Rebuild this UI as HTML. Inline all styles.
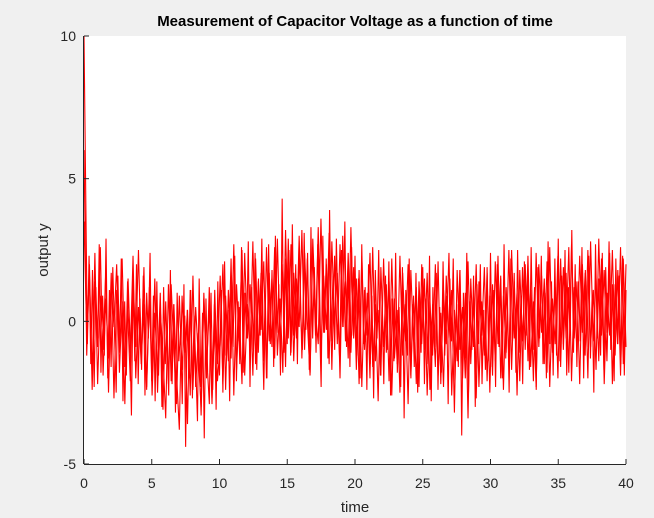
<!DOCTYPE html>
<html><head><meta charset="utf-8"><style>
html,body{margin:0;padding:0;background:#f0f0f0;}
svg{display:block;font-family:"Liberation Sans",sans-serif;}
</style></head><body>
<svg id="chart" width="654" height="518">
<rect x="0" y="0" width="654" height="518" fill="#f0f0f0"/>
<rect x="84" y="36" width="542" height="428" fill="#fff"/>
<text x="355" y="26" text-anchor="middle" font-weight="bold" font-size="15" fill="#000">Measurement of Capacitor Voltage as a function of time</text>
<text x="355" y="512" text-anchor="middle" font-size="15" fill="#262626">time</text>
<text transform="translate(48,250) rotate(-90)" text-anchor="middle" font-size="15" fill="#262626">output y</text>
<g id="series"></g>
<g id="axes"></g>
</svg>
<script>
const xTicks=[0,5,10,15,20,25,30,35,40];
const yTicks=[-5,0,5,10];
const tStart=0, tEnd=40;
const yValues=[10,4.6,-0.8,2.3,-1.5,1.8,-2.3,1.2,-0.9,2.7,-1.8,0.9,-1.2,2.9,-2.0,1.1,-1.6,1.9,-0.4,-2.5,1.6,-1.1,2.2,-2.8,0.7,-1.9,1.5,-0.3,-3.3,1.3,-1.4,2.0,-2.2,0.8,-1.7,1.6,-2.6,1.0,-0.6,2.4,
-2.1,0.9,-2.8,1.4,-1.9,0.5,-3.0,1.2,-1.5,-0.2,-2.6,1.8,-2.2,0.6,-3.2,1.0,-1.4,-0.3,-2.9,1.3,-4.4,0.4,-2.0,1.1,-2.7,0.2,-1.6,-3.5,1.5,-2.3,0.3,-4.1,0.8,-1.8,-2.9,1.0,-2.4,0.6,-3.1,1.4,
-1.9,1.1,-2.5,2.1,-1.2,0.4,-2.8,1.6,-0.9,2.3,-2.1,0.7,-1.5,2.6,-1.8,1.0,-0.6,2.8,-2.3,1.2,-1.0,2.4,-1.7,1.5,-0.5,2.9,-1.4,0.9,-2.0,2.7,-0.8,1.8,-1.6,3.0,-0.4,1.3,-1.9,4.3,-1.1,2.2,
-0.8,2.5,-1.2,3.4,-0.5,2.0,-1.5,2.8,0.1,-1.0,3.1,-0.3,2.4,-1.7,3.3,-0.6,1.9,-1.1,2.7,0.2,-2.3,3.0,-0.4,2.2,-1.3,3.9,-0.7,1.6,-1.0,2.9,0.0,-1.4,2.5,-0.2,3.5,-0.9,1.8,-1.6,2.6,-0.5,
2.3,-1.2,1.5,-2.0,2.7,-0.8,1.2,-2.4,2.0,-1.5,0.9,-2.7,1.8,-0.6,2.5,-1.9,0.7,-2.2,1.6,-1.0,2.1,-2.6,0.8,-1.4,2.4,-1.8,0.5,-2.3,1.9,-3.4,1.1,-1.2,2.2,-2.0,0.6,-1.6,1.7,-2.5,1.0,-1.1,
1.9,-2.2,0.8,-1.5,2.3,-2.8,1.2,-0.9,1.7,-2.4,0.5,-1.8,2.1,-1.2,0.9,-2.9,1.5,-0.7,2.2,-2.1,0.6,-1.6,1.8,-4.0,1.0,-1.3,2.4,-2.5,0.7,-1.0,1.6,-3.0,1.3,-0.8,2.0,-2.2,0.4,-1.7,1.9,-1.4,
2.4,-1.6,1.1,-2.3,2.0,-0.9,1.5,-2.0,2.7,-1.3,0.8,-2.5,2.2,-0.7,1.7,-1.8,2.5,-1.1,0.9,-2.2,2.1,-0.5,1.6,-1.7,2.6,-1.0,1.2,-2.4,1.9,-0.6,2.3,-1.5,1.0,-2.0,2.8,-0.8,1.4,-1.9,2.2,-1.2,
2.9,-1.4,1.6,-0.8,2.5,-1.9,1.2,-0.5,3.2,-1.1,2.0,-1.6,1.4,-0.7,2.6,-2.0,1.8,-0.9,2.3,-1.3,0.9,-2.5,2.7,-0.6,1.5,-1.2,2.4,-1.7,1.9,-0.4,2.8,-1.0,1.3,-2.1,2.2,-0.8,1.6,-1.5,2.3,-1.9,1.1];
const yValuesB=[6.0,-1.2,2.0,-2.4,1.4,-0.6,2.6,-1.9,0.8,-1.3,1.7,-2.7,1.1,-0.5,2.2,-1.6,0.4,-2.1,1.5,-0.9,2.5,-1.4,0.6,-2.3,1.2,
-2.6,0.3,-1.8,1.0,-3.1,0.7,-2.2,1.3,-1.0,-2.9,0.9,-1.7,0.2,-3.6,1.1,-2.4,0.5,-1.3,-3.0,0.8,-2.0,1.2,-2.7,0.1,-1.5,
1.6,-2.2,0.9,-1.4,2.2,-2.6,1.3,-0.7,2.5,-1.9,0.6,-1.1,2.8,-1.5,1.4,-0.3,2.1,-2.0,1.7,-0.9,2.6,-1.2,0.8,-1.8,3.2,
-0.6,2.7,-1.4,1.5,-0.2,3.2,-1.0,2.2,-1.8,2.9,0.3,-0.8,3.6,-0.4,2.0,-1.5,2.8,-0.1,1.7,-2.0,3.0,-0.7,2.4,-1.1,1.9,
-1.7,1.8,-2.3,1.1,-0.5,2.4,-1.6,0.6,-2.8,1.9,-0.9,1.3,-2.1,2.2,-1.3,0.4,-2.5,1.7,-0.7,2.0,-1.9,0.9,-2.2,1.4,-0.8,
1.5,-2.6,0.7,-1.2,2.0,-1.9,0.3,-2.3,1.6,-0.6,1.1,-3.2,1.8,-1.0,0.5,-2.0,2.1,-1.5,0.8,-2.7,1.4,-0.5,1.9,-2.1,0.9,
-1.9,2.1,-0.8,1.6,-2.4,1.2,-1.3,2.5,-0.6,1.0,-2.1,1.9,-1.0,2.3,-1.6,0.7,-2.3,2.0,-0.4,1.5,-1.8,2.6,-1.1,1.2,-2.0,
2.2,-1.0,1.7,-1.8,2.7,-0.6,1.4,-2.2,2.0,-1.2,2.5,-0.9,1.1,-1.7,2.9,-0.5,1.8,-1.4,2.4,-2.2,1.3,-0.8,2.6,-1.5,2.0];
const yValuesC=[3.5,-0.4,1.6,-1.9,2.4,-2.2,0.9,-1.0,1.8,-2.5,1.3,-0.2,2.0,-1.8,0.7,-2.9,1.4,-1.1,2.3,-2.0,0.5,-1.5,1.9,-2.4,0.8,
-1.7,1.5,-2.5,0.4,-1.2,-3.4,1.3,-2.1,0.6,-1.9,-3.8,0.9,-1.1,0.4,-2.6,1.6,-2.3,-0.4,-3.3,1.0,-1.6,0.5,-2.9,1.1,-2.1,
-0.8,2.0,-2.4,1.1,-1.3,2.7,-1.7,0.5,-2.2,2.4,-0.6,1.3,-1.9,2.2,-1.1,1.7,-2.4,2.6,-0.7,1.5,-1.3,2.9,-0.9,2.0,-1.6,
2.9,-1.1,1.7,-0.6,3.0,-1.3,2.4,0.0,-1.9,2.6,-0.5,3.3,-1.2,1.6,-0.3,3.1,-1.7,2.3,-0.8,2.7,-0.2,1.4,-1.3,3.3,-0.6,
1.5,-2.2,2.3,-1.0,1.0,-2.0,2.6,-1.4,0.4,-1.9,2.2,-1.1,1.4,-2.6,0.8,-1.5,2.3,-1.2,0.6,-2.9,1.8,-0.7,1.2,-2.3,2.0,
-1.0,1.7,-2.4,0.6,-1.6,2.1,-2.2,1.1,-0.8,2.4,-2.6,0.4,-1.4,1.8,-2.0,1.0,-3.4,1.5,-0.9,2.0,-2.3,0.7,-1.2,1.7,-2.5,
1.3,-1.4,2.3,-2.0,0.9,-1.1,2.5,-1.7,1.4,-2.6,1.8,-0.7,2.0,-1.4,1.1,-2.1,2.4,-0.9,1.6,-1.5,2.1,-2.3,0.8,-0.8,2.3,
-1.6,1.9,-0.6,2.6,-2.1,1.2,-1.1,2.3,-0.4,1.7,-2.0,2.8,-0.7,1.5,-1.4,2.2,-2.2,1.0,-0.5,2.5,-1.2,1.8,-1.9,2.2,-0.9];

const NS="http://www.w3.org/2000/svg";
const L=84,R=626,T=36,B=464;
const xMin=0,xMax=40,yMin=-5,yMax=10;
const xs=v=>L+(v-xMin)/(xMax-xMin)*(R-L);
const ys=v=>B-(v-yMin)/(yMax-yMin)*(B-T);

const series=document.getElementById('series');
function drawSeries(arr,name){
  const n=arr.length;
  let d='';
  arr.forEach((v,i)=>{
    const t=tStart+(tEnd-tStart)*i/(n-1);
    d+=(i?'L':'M')+xs(t).toFixed(2)+' '+ys(v).toFixed(2);
  });
  const path=document.createElementNS(NS,'path');
  path.setAttribute('d',d);
  path.setAttribute('fill','none');
  path.setAttribute('stroke','#ff0000');
  path.setAttribute('stroke-width','1.1');
  
  
  series.appendChild(path);
}
drawSeries(yValuesB,'voltage-line-b');
drawSeries(yValuesC,'voltage-line-c');
drawSeries(yValues,'voltage-line');

const axes=document.getElementById('axes');
function mk(tag,attrs){const e=document.createElementNS(NS,tag);for(const k in attrs)e.setAttribute(k,attrs[k]);return e;}
const xl=mk('line',{x1:L,y1:B+0.5,x2:R,y2:B+0.5,stroke:'#262626','stroke-width':1});


axes.appendChild(xl);
const yl=mk('line',{x1:L-0.5,y1:T,x2:L-0.5,y2:B,stroke:'#262626','stroke-width':1});


axes.appendChild(yl);
xTicks.forEach(v=>{
  const x=xs(v);
  const tk=mk('line',{x1:x,y1:B,x2:x,y2:B-5,stroke:'#262626','stroke-width':1});
  
  
  axes.appendChild(tk);
  const tx=mk('text',{x:x,y:B+24,'text-anchor':'middle','font-size':14,fill:'#262626'});
  tx.textContent=v;
  
  
  axes.appendChild(tx);
});
yTicks.forEach(v=>{
  const y=ys(v);
  const tk=mk('line',{x1:L,y1:y,x2:L+5,y2:y,stroke:'#262626','stroke-width':1});
  
  
  axes.appendChild(tk);
  const tx=mk('text',{x:L-8,y:y+5,'text-anchor':'end','font-size':14,fill:'#262626'});
  tx.textContent=v;
  
  
  axes.appendChild(tx);
});
</script>
</body></html>
